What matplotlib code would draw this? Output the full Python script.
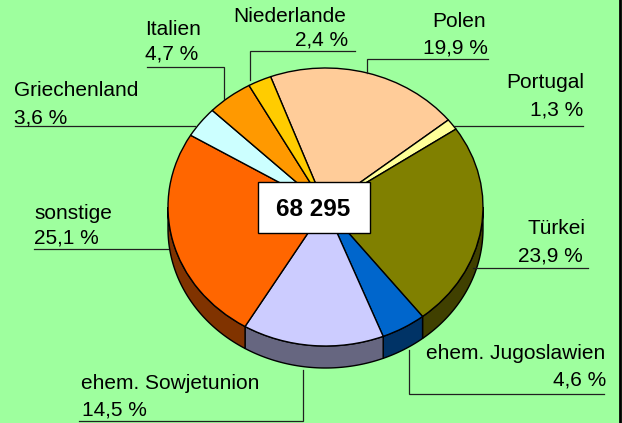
import matplotlib.pyplot as plt
import numpy as np

labels = ['Polen', 'Portugal', 'Türkei', 'ehem. Jugoslawien', 'ehem. Sowjetunion',
          'sonstige', 'Griechenland', 'Italien', 'Niederlande']
values = [19.9, 1.3, 23.9, 4.6, 14.5, 25.1, 3.6, 4.7, 2.4]
colors = ['#FFCC99', '#FFFF99', '#808000', '#0066CC', '#CCCCFF',
          '#FF6600', '#CCFFFF', '#FF9900', '#FFCC00']
side_colors = ['#806650', '#80804D', '#404000', '#003366', '#666680',
               '#803300', '#668080', '#804D00', '#806600']
total = '68 295'

W, H = 622, 423
plt.rcParams['font.family'] = ['Liberation Sans', 'DejaVu Sans']

fig = plt.figure(figsize=(W / 100, H / 100), dpi=100, facecolor='#9EFF9E')

# pie in its own axes, squashed to the ellipse of the top face
left, right, top, bottom = 168, 483, 68, 346
ax = fig.add_axes([left / W, (H - bottom) / H, (right - left) / W, (bottom - top) / H])
wedges, _ = ax.pie(values, colors=colors, startangle=110.4, counterclock=False,
                   radius=1, wedgeprops={'edgecolor': 'black', 'linewidth': 1.0, 'zorder': 3})
ax.set_aspect('auto')
ax.set_xlim(-1, 1)
ax.set_ylim(-1, 1)
ax.axis('off')
for w in wedges:
    w.set_clip_on(False)

# 3d side, only the lower half is visible
depth = 22 / ((bottom - top) / 2)
for w, c in zip(wedges, side_colors):
    t1 = w.theta1 % 360
    t2 = t1 + (w.theta2 - w.theta1)
    lo, hi = max(t1, 180), min(t2, 360)
    if lo >= hi:
        continue
    t = np.radians(np.linspace(lo, hi, 60))
    xs = np.r_[np.cos(t), np.cos(t[::-1])]
    ys = np.r_[np.sin(t), np.sin(t[::-1]) - depth]
    ax.fill(xs, ys, facecolor=c, edgecolor='black', linewidth=1.0, zorder=2, clip_on=False)

# overlay in pixel coordinates for the leaders and the labels
ov = fig.add_axes([0, 0, 1, 1], facecolor='none')
ov.set_xlim(0, W)
ov.set_ylim(H, 0)
ov.axis('off')

leaders = [
    ([367, 367, 488], [73, 59, 59]),
    ([454, 583], [126, 126]),
    ([473, 588], [268, 268]),
    ([409, 409, 604], [350, 394, 394]),
    ([303, 303, 79], [370, 421, 421]),
    ([168, 34], [249, 249]),
    ([195, 15], [126, 126]),
    ([224, 224, 147], [99, 67, 67]),
    ([250, 250, 355], [80, 51, 51]),
]
for lx, ly in leaders:
    ov.plot(lx, ly, color='#202020', lw=0.9, solid_joinstyle='miter')

# name x, name baseline, value x, value baseline, alignment
places = [
    (486, 27, 488, 54, 'right'),
    (584, 88, 583, 115, 'right'),
    (585, 234, 583, 261, 'right'),
    (605, 359, 606, 386, 'right'),
    (81, 389, 82, 415, 'left'),
    (34, 219, 34, 244, 'left'),
    (14, 96, 14, 124, 'left'),
    (145, 35, 145, 59, 'left'),
    (346, 22, 348, 45, 'right'),
]
for name, v, (nx, ny, vx, vy, ha) in zip(labels, values, places):
    ov.text(nx, ny, name, fontsize=15, ha=ha, va='baseline', color='black')
    ov.text(vx, vy, f'{v:.1f} %'.replace('.', ','), fontsize=15, ha=ha, va='baseline', color='black')

# box with the total in the middle
ov.add_patch(plt.Rectangle((258, 182), 111.5, 51, facecolor='white', edgecolor='black', lw=1.0, zorder=5))
ov.text(313.5, 209, total, fontsize=17.5, fontweight='bold', ha='center', va='center', color='black', zorder=6)

# black frame line on the right
ov.plot([619.5, 619.5], [0, H], color='black', lw=2, zorder=7)

fig.savefig('out.png', dpi=100, facecolor=fig.get_facecolor())
